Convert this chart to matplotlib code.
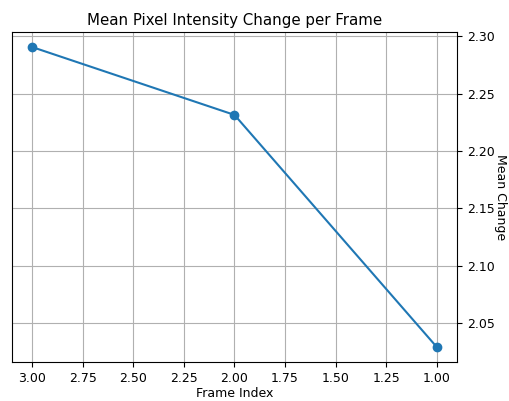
import matplotlib
matplotlib.use("Agg")
import matplotlib.pyplot as plt

plt.rcParams['font.size'] = 9

frame_index = [1, 2, 3]
mean_change = [2.0292, 2.2314, 2.2905]
x_ticks = [1.00, 1.25, 1.50, 1.75, 2.00, 2.25, 2.50, 2.75, 3.00]

fig = plt.figure(figsize=(5.10, 4.01), dpi=100)
ax = fig.add_axes([0.0235, 0.0973, 0.8725, 0.8227])
ax.plot(frame_index, mean_change, marker='o', color='#1f77b4')
ax.set_xticks(x_ticks)
ax.set_xticklabels([f"{t:.2f}" for t in x_ticks])
ax.invert_xaxis()
ax.yaxis.tick_right()
ax.yaxis.set_label_position("right")
ax.set_ylabel("Mean Change", rotation=270, labelpad=9)
ax.set_xlabel("Frame Index", labelpad=2)
ax.set_title("Mean Pixel Intensity Change per Frame", pad=5)
ax.grid(True)
fig.savefig("out.png", dpi=100)
